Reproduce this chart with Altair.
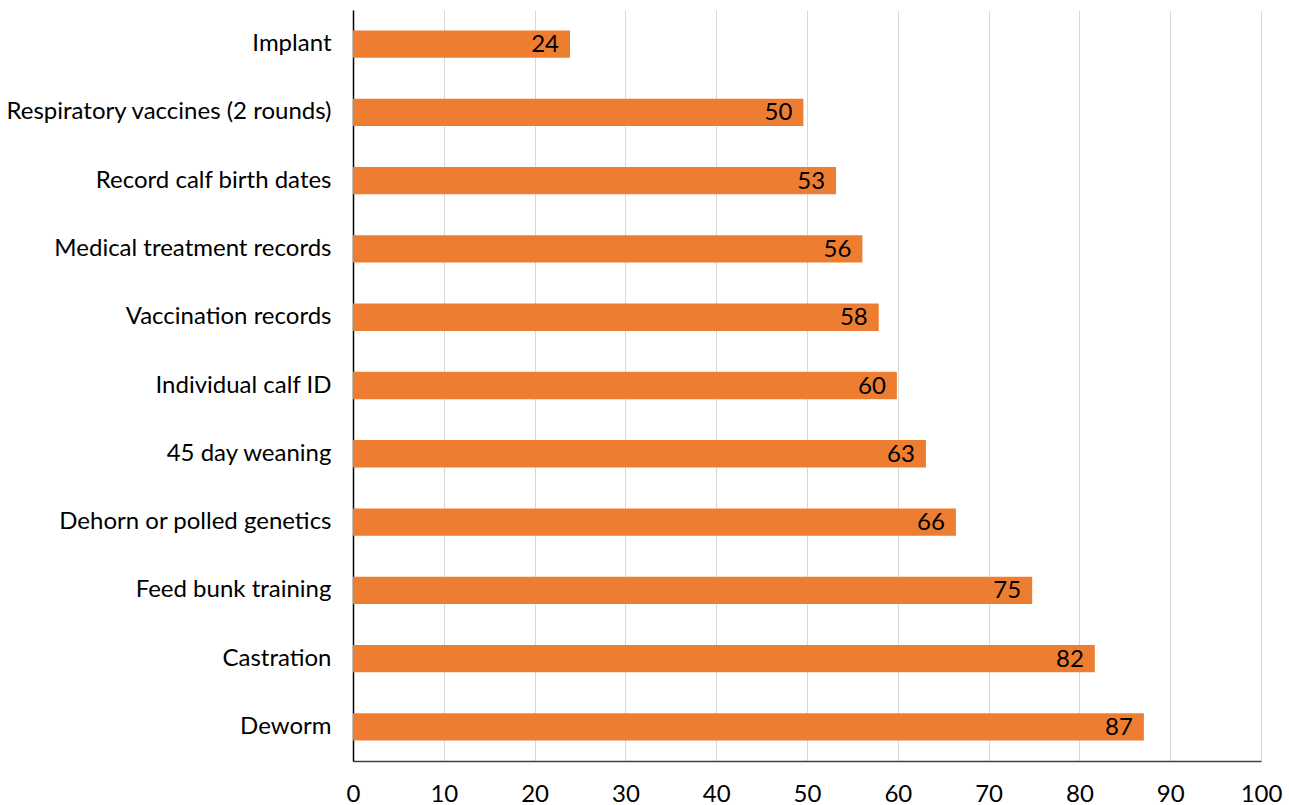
import altair as alt
import pandas as pd

categories = ["Implant", "Respiratory vaccines (2 rounds)", "Record calf birth dates",
              "Medical treatment records", "Vaccination records", "Individual calf ID",
              "45 day weaning\u00a0", "Dehorn or polled genetics", "Feed bunk training",
              "Castration", "Deworm"]
values = [23.9, 49.6, 53.2, 56.1, 57.9, 59.9, 63.1, 66.4, 74.8, 81.7, 87.1]
labels = ["24", "50", "53", "56", "58", "60", "63", "66", "75", "82", "87"]

df = pd.DataFrame({"cat": categories, "val": values, "lab": labels})

FONT = "Lato"

y = alt.Y("cat:N", sort=categories, title=None,
          scale=alt.Scale(paddingInner=0.6, paddingOuter=0.3),
          axis=alt.Axis(domainColor="#000000", domainWidth=1.5, ticks=False,
                        labelFontSize=24, labelFont=FONT, labelColor="#000000",
                        labelPadding=22, labelLimit=400))
x = alt.X("val:Q", title=None, scale=alt.Scale(domain=[0, 100], nice=False),
          axis=alt.Axis(values=list(range(0, 101, 10)), grid=True, gridColor="#d9d9d9",
                        domainColor="#404040", domainWidth=1.5, ticks=False,
                        labelFontSize=24, labelFont=FONT, labelColor="#000000",
                        labelPadding=21, labelFlush=False, labelOverlap=False))

bars = alt.Chart(df).mark_bar(color="#ED7D31").encode(x=x, y=y)
text = alt.Chart(df).mark_text(align="right", baseline="middle", dx=-11, dy=1,
                               fontSize=24, font=FONT, color="#000000").encode(
    x="val:Q", y=alt.Y("cat:N", sort=categories), text="lab:N")

chart = (bars + text).properties(
    width=908, height=751,
    autosize=alt.AutoSizeParams(type="none"),
    padding={"left": 353, "top": 10, "right": 28, "bottom": 44},
).configure_view(stroke=None).configure_axisY(domain=True)

chart.save("out.html", embed_options={"renderer": "svg", "actions": False})
